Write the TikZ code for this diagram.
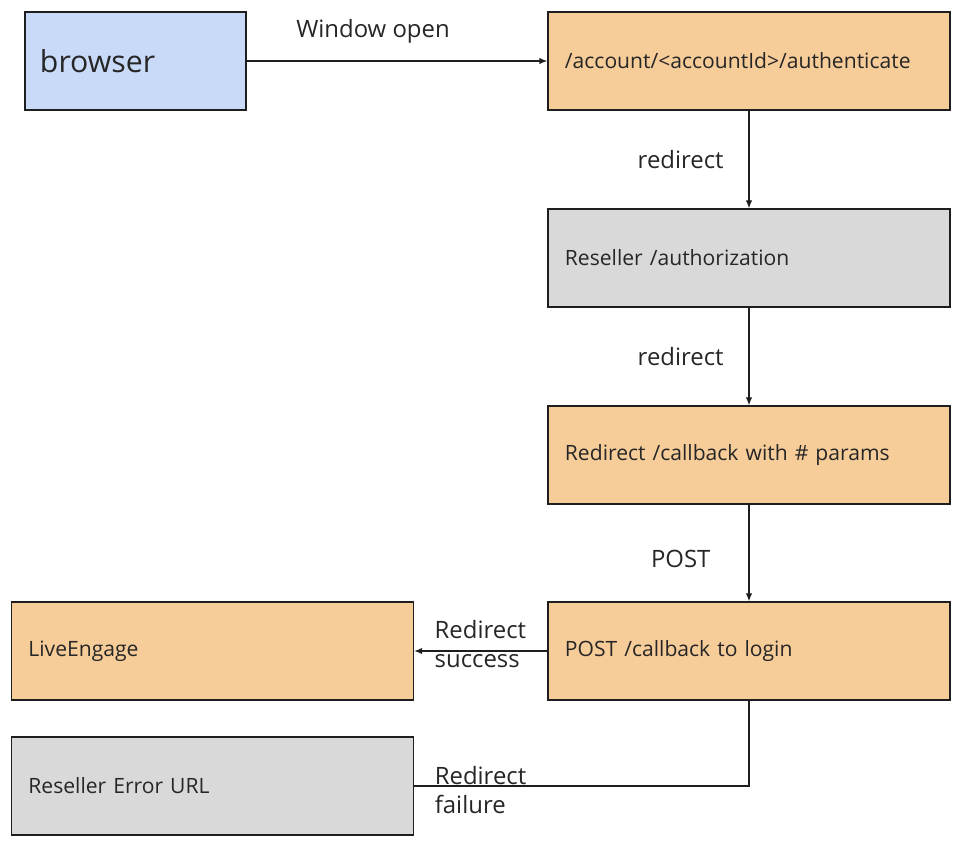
\documentclass[tikz,border=0pt]{standalone}
\usepackage{fontspec}
\setmainfont{Open Sans}
\usepackage{tikz}
\usetikzlibrary{arrows.meta,positioning}
\definecolor{BrowserBlue}{RGB}{201,218,248}
\definecolor{StepPeach}{RGB}{246,204,153}
\definecolor{StepGray}{RGB}{217,217,217}
\definecolor{LineDark}{RGB}{30,30,30}
\tikzset{
  flowbox/.style={draw=LineDark, line width=0.9pt, rectangle,
                  minimum width=10.05cm, minimum height=2.45cm,
                  text width=9.2cm, align=left, inner sep=0.425cm,
                  font=\fontsize{15}{18}\selectfont, text=black!85},
  lbl/.style={font=\fontsize{17}{20.5}\selectfont, text=black!85, inner sep=0pt},
  arr/.style={-{Latex[length=2mm,width=1.6mm]}, line width=0.8pt, color=LineDark}
}

\begin{document}
\begin{tikzpicture}[x=0.025cm, y=-0.025cm]
\useasboundingbox (0,0) rectangle (975,850);
% boxes
\node[flowbox, fill=BrowserBlue, minimum width=5.525cm, text width=4.775cm,
      inner sep=0.375cm, font=\fontsize{21.5}{26}\selectfont] (browser) at (135.5,61) {browser};
\node[flowbox, fill=StepPeach] (auth) at (749,61) {/account/<accountId>/authenticate};
\node[flowbox, fill=StepGray] (authz) at (749,258) {Reseller /authorization};
\node[flowbox, fill=StepPeach] (callback) at (749,455) {Redirect /callback with \# params};
\node[flowbox, fill=StepPeach] (login) at (749,651) {POST /callback to login};
\node[flowbox, fill=StepPeach] (live) at (212.5,651) {LiveEngage};
\node[flowbox, fill=StepGray] (error) at (212.5,786) {Reseller Error URL};
% connectors
\draw[arr] (browser) -- node[lbl, above=0.42cm, xshift=-0.6cm]{Window open} (auth);
\draw[arr] (auth) -- node[lbl, left=0.62cm]{redirect} (authz);
\draw[arr] (authz) -- node[lbl, left=0.62cm]{redirect} (callback);
\draw[arr] (callback) -- node[lbl, left=0.95cm, yshift=-0.14cm]{POST} (login);
\draw[arr] (login) -- node[lbl, pos=0.85, anchor=west, align=left, yshift=0.18cm]{Redirect\\success} (live);
\draw[line width=0.8pt, color=LineDark] (login.south) |- node[lbl, pos=0.97, anchor=west, align=left, yshift=-0.1cm]{Redirect\\failure} (error.east);
\end{tikzpicture}
\end{document}
